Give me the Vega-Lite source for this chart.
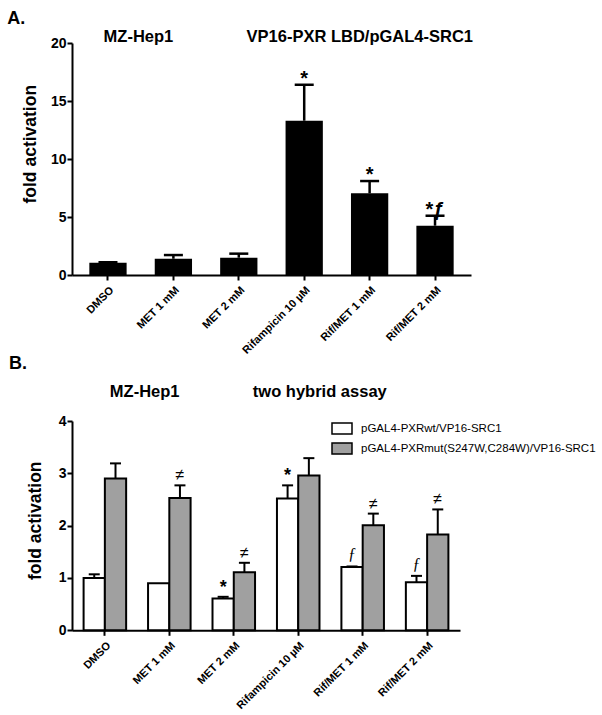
{
  "$schema": "https://vega.github.io/schema/vega-lite/v6.json",
  "background": "white",
  "padding": {"left": 7, "top": 9, "right": 0, "bottom": 0},
  "columns": 1,
  "spacing": -2,
  "resolve": {"legend": {"fill": "independent"}, "scale": {"fill": "independent"}},
  "config": {
    "view": {"stroke": null},
    "font": "Liberation Sans",
    "axis": {
      "domainColor": "black", "domainWidth": 2,
      "tickColor": "black", "tickWidth": 2, "tickSize": 5,
      "labelColor": "black", "labelFont": "Liberation Sans", "labelFontWeight": "bold",
      "titleColor": "black", "titleFont": "Liberation Sans", "titleFontWeight": "bold",
      "grid": false
    }
  },
  "datasets": {
    "a": [
      {"cond": "DMSO", "mean": 1.06, "upper": 1.1, "sig": ""},
      {"cond": "MET 1 mM", "mean": 1.4, "upper": 1.72, "sig": ""},
      {"cond": "MET 2 mM", "mean": 1.49, "upper": 1.84, "sig": ""},
      {"cond": "Rifampicin 10 µM", "mean": 13.3, "upper": 16.4, "sig": "*"},
      {"cond": "Rif/MET 1 mM", "mean": 7.04, "upper": 8.1, "sig": "*"},
      {"cond": "Rif/MET 2 mM", "mean": 4.25, "upper": 5.11, "sig": "*ƒ"}
    ],
    "b": [
      {"cond": "DMSO", "construct": "pGAL4-PXRwt/VP16-SRC1", "mean": 1.0, "upper": 1.07, "sig": ""},
      {"cond": "DMSO", "construct": "pGAL4-PXRmut(S247W,C284W)/VP16-SRC1", "mean": 2.9, "upper": 3.19, "sig": ""},
      {"cond": "MET 1 mM", "construct": "pGAL4-PXRwt/VP16-SRC1", "mean": 0.9, "upper": null, "sig": ""},
      {"cond": "MET 1 mM", "construct": "pGAL4-PXRmut(S247W,C284W)/VP16-SRC1", "mean": 2.53, "upper": 2.77, "sig": "≠"},
      {"cond": "MET 2 mM", "construct": "pGAL4-PXRwt/VP16-SRC1", "mean": 0.61, "upper": 0.64, "sig": "*"},
      {"cond": "MET 2 mM", "construct": "pGAL4-PXRmut(S247W,C284W)/VP16-SRC1", "mean": 1.11, "upper": 1.29, "sig": "≠"},
      {"cond": "Rifampicin 10 µM", "construct": "pGAL4-PXRwt/VP16-SRC1", "mean": 2.52, "upper": 2.77, "sig": "*"},
      {"cond": "Rifampicin 10 µM", "construct": "pGAL4-PXRmut(S247W,C284W)/VP16-SRC1", "mean": 2.96, "upper": 3.29, "sig": ""},
      {"cond": "Rif/MET 1 mM", "construct": "pGAL4-PXRwt/VP16-SRC1", "mean": 1.21, "upper": 1.22, "sig": "ƒ"},
      {"cond": "Rif/MET 1 mM", "construct": "pGAL4-PXRmut(S247W,C284W)/VP16-SRC1", "mean": 2.01, "upper": 2.23, "sig": "≠"},
      {"cond": "Rif/MET 2 mM", "construct": "pGAL4-PXRwt/VP16-SRC1", "mean": 0.92, "upper": 1.04, "sig": "ƒ"},
      {"cond": "Rif/MET 2 mM", "construct": "pGAL4-PXRmut(S247W,C284W)/VP16-SRC1", "mean": 1.83, "upper": 2.31, "sig": "≠"}
    ]
  },
  "concat": [
    {
      "width": 399,
      "height": 232,
      "title": {
        "text": "A.",
        "subtitle": "\u200b\u00a0\u00a0\u00a0\u00a0\u00a0\u00a0\u00a0\u00a0\u00a0\u00a0\u00a0\u00a0\u00a0\u00a0\u00a0\u00a0\u00a0\u00a0\u00a0\u00a0\u00a0MZ-Hep1\u00a0\u00a0\u00a0\u00a0\u00a0\u00a0\u00a0\u00a0\u00a0\u00a0\u00a0\u00a0\u00a0\u00a0\u00a0\u00a0VP16-PXR LBD/pGAL4-SRC1",
        "anchor": "start", "frame": "group", "dx": -64.7,
        "font": "Liberation Sans", "fontSize": 18, "fontWeight": "bold", "color": "black",
        "subtitleFont": "Liberation Sans", "subtitleFontSize": 16.5, "subtitleFontWeight": "bold", "subtitleColor": "black",
        "subtitlePadding": 1, "offset": -9
      },
      "data": {"name": "a"},
      "encoding": {
        "x": {
          "field": "cond", "type": "nominal",
          "sort": ["DMSO", "MET 1 mM", "MET 2 mM", "Rifampicin 10 µM", "Rif/MET 1 mM", "Rif/MET 2 mM"],
          "scale": {"paddingInner": 0.43, "paddingOuter": 0.265},
          "axis": {"title": null, "labelAngle": -45, "labelFontSize": 11, "labelPadding": 4}
        }
      },
      "layer": [
        {
          "mark": {"type": "bar", "color": "black"},
          "encoding": {
            "y": {
              "field": "mean", "type": "quantitative", "title": "fold activation",
              "scale": {"domain": [0, 20]},
              "axis": {"values": [0, 5, 10, 15, 20], "format": "d", "labelFontSize": 14, "labelPadding": 1, "titleFontSize": 17.5, "titleY": 100.7, "titleX": -36.7, "titleBaseline": "alphabetic"}
            }
          }
        },
        {
          "mark": {"type": "rule", "strokeWidth": 2.5, "color": "black"},
          "encoding": {
            "y": {"field": "mean", "type": "quantitative", "title": "fold activation"},
            "y2": {"field": "upper"}
          }
        },
        {
          "mark": {"type": "tick", "orient": "horizontal", "size": 19, "thickness": 2.5, "color": "black", "opacity": 1},
          "encoding": {"y": {"field": "upper", "type": "quantitative", "title": "fold activation"}}
        },
        {
          "mark": {"type": "text", "fontSize": 20, "fontWeight": "bold", "baseline": "middle", "dy": -6, "color": "black"},
          "encoding": {
            "y": {"field": "upper", "type": "quantitative", "title": "fold activation"},
            "text": {"field": "sig"}
          }
        }
      ]
    },
    {
      "width": 388,
      "height": 209.3,
      "title": {
        "text": "B.",
        "subtitle": "\u200b\u00a0\u00a0\u00a0\u00a0\u00a0\u00a0\u00a0\u00a0\u00a0\u00a0\u00a0\u00a0\u00a0\u00a0\u00a0\u00a0\u00a0\u00a0\u00a0\u00a0\u00a0\u00a0MZ-Hep1\u00a0\u00a0\u00a0\u00a0\u00a0\u00a0\u00a0\u00a0\u00a0\u00a0\u00a0\u00a0\u00a0\u00a0\u00a0\u00a0two hybrid assay",
        "anchor": "start", "frame": "group", "dx": -63,
        "font": "Liberation Sans", "fontSize": 18, "fontWeight": "bold", "color": "black",
        "subtitleFont": "Liberation Sans", "subtitleFontSize": 16.5, "subtitleFontWeight": "bold", "subtitleColor": "black",
        "subtitlePadding": 11, "offset": 14
      },
      "data": {"name": "b"},
      "encoding": {
        "x": {
          "field": "cond", "type": "nominal",
          "sort": ["DMSO", "MET 1 mM", "MET 2 mM", "Rifampicin 10 µM", "Rif/MET 1 mM", "Rif/MET 2 mM"],
          "scale": {"paddingInner": 0.34, "paddingOuter": 0.18},
          "axis": {"title": null, "labelAngle": -45, "labelFontSize": 11, "labelPadding": 4}
        },
        "xOffset": {
          "field": "construct", "type": "nominal",
          "sort": ["pGAL4-PXRwt/VP16-SRC1", "pGAL4-PXRmut(S247W,C284W)/VP16-SRC1"],
          "scale": {"paddingInner": 0, "paddingOuter": 0}
        }
      },
      "layer": [
        {
          "mark": {"type": "bar", "stroke": "black", "strokeWidth": 2},
          "encoding": {
            "y": {
              "field": "mean", "type": "quantitative", "title": "fold activation",
              "scale": {"domain": [0, 4]},
              "axis": {"values": [0, 1, 2, 3, 4], "format": "d", "labelFontSize": 14, "labelPadding": 1, "titleFontSize": 17.5, "titleY": 99.3, "titleX": -31.3, "titleBaseline": "alphabetic"}
            },
            "fill": {
              "field": "construct", "type": "nominal",
              "scale": {"domain": ["pGAL4-PXRwt/VP16-SRC1", "pGAL4-PXRmut(S247W,C284W)/VP16-SRC1"], "range": ["white", "#a0a0a0"]},
              "legend": {
                "title": null, "orient": "none", "legendX": 259, "legendY": -3.5,
                "symbolType": "M-1,-0.56H1V0.56H-1Z", "symbolSize": 400,
                "symbolStrokeColor": "black", "symbolStrokeWidth": 1.5, "symbolOpacity": 1,
                "labelFont": "Liberation Sans", "labelFontSize": 11.5, "labelColor": "black",
                "labelOffset": 8, "rowPadding": -1, "padding": 0, "labelLimit": 400
              }
            }
          }
        },
        {
          "transform": [{"filter": "isValid(datum.upper)"}],
          "mark": {"type": "rule", "strokeWidth": 2, "color": "black"},
          "encoding": {
            "y": {"field": "mean", "type": "quantitative", "title": "fold activation"},
            "y2": {"field": "upper"}
          }
        },
        {
          "transform": [{"filter": "isValid(datum.upper)"}],
          "mark": {"type": "tick", "orient": "horizontal", "size": 11, "thickness": 2, "color": "black", "opacity": 1},
          "encoding": {"y": {"field": "upper", "type": "quantitative", "title": "fold activation"}}
        },
        {
          "transform": [{"filter": "datum.sig == '*'"}],
          "mark": {"type": "text", "fontSize": 18, "fontWeight": "bold", "baseline": "middle", "dy": -9, "color": "black"},
          "encoding": {
            "y": {"field": "upper", "type": "quantitative", "title": "fold activation"},
            "text": {"field": "sig"}
          }
        },
        {
          "transform": [{"filter": "datum.sig == 'ƒ'"}],
          "mark": {"type": "text", "font": "Liberation Serif", "fontStyle": "italic", "fontSize": 16, "baseline": "middle", "dy": -12, "color": "black"},
          "encoding": {
            "y": {"field": "upper", "type": "quantitative", "title": "fold activation"},
            "text": {"field": "sig"}
          }
        },
        {
          "transform": [{"filter": "datum.sig == '≠'"}],
          "mark": {"type": "text", "font": "Liberation Sans", "fontSize": 16, "baseline": "middle", "dy": -10, "color": "black"},
          "encoding": {
            "y": {"field": "upper", "type": "quantitative", "title": "fold activation"},
            "text": {"field": "sig"}
          }
        }
      ]
    }
  ]
}
